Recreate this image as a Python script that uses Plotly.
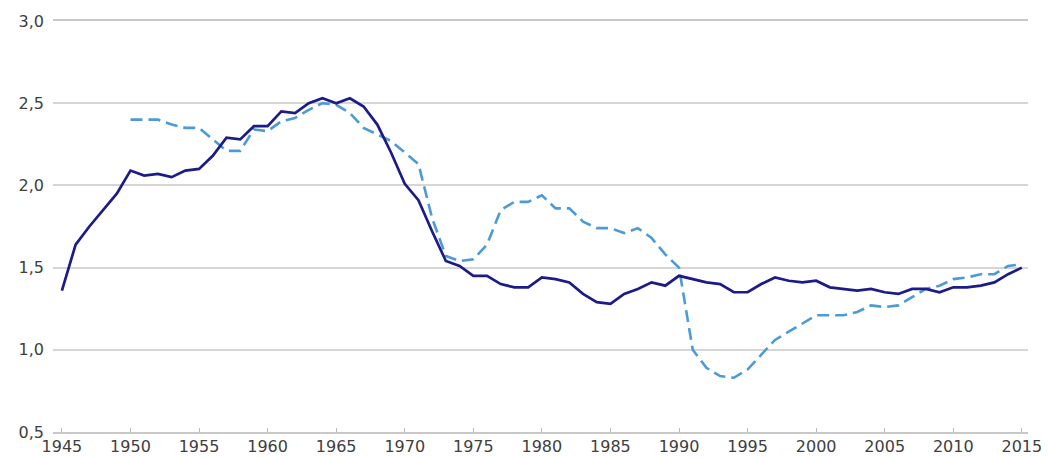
import plotly.graph_objects as go

years_solid = list(range(1945, 2016))
solid_values = [1.36, 1.64, 1.75, 1.85, 1.95, 2.09, 2.06, 2.07, 2.05, 2.09,
                2.10, 2.18, 2.29, 2.28, 2.36, 2.36, 2.45, 2.44, 2.50, 2.53,
                2.50, 2.53, 2.48, 2.37, 2.20, 2.01, 1.91, 1.72, 1.54, 1.51,
                1.45, 1.45, 1.40, 1.38, 1.38, 1.44, 1.43, 1.41, 1.34, 1.29,
                1.28, 1.34, 1.37, 1.41, 1.39, 1.45, 1.43, 1.41, 1.40, 1.35,
                1.35, 1.40, 1.44, 1.42, 1.41, 1.42, 1.38, 1.37, 1.36, 1.37,
                1.35, 1.34, 1.37, 1.37, 1.35, 1.38, 1.38, 1.39, 1.41, 1.46,
                1.50]

years_dashed = list(range(1950, 2016))
dashed_values = [2.40, 2.40, 2.40, 2.37, 2.35, 2.35, 2.28, 2.21, 2.21, 2.34,
                 2.33, 2.39, 2.41, 2.46, 2.50, 2.49, 2.44, 2.35, 2.31, 2.27,
                 2.20, 2.13, 1.80, 1.57, 1.54, 1.55, 1.64, 1.85, 1.90, 1.90,
                 1.94, 1.86, 1.86, 1.78, 1.74, 1.74, 1.71, 1.74, 1.68, 1.58,
                 1.50, 1.00, 0.89, 0.84, 0.83, 0.88, 0.97, 1.06, 1.11, 1.16,
                 1.21, 1.21, 1.21, 1.23, 1.27, 1.26, 1.27, 1.32, 1.37, 1.39,
                 1.43, 1.44, 1.46, 1.46, 1.51, 1.52]

x_ticks = list(range(1945, 2016, 5))
y_ticks = [0.5, 1.0, 1.5, 2.0, 2.5, 3.0]

fig = go.Figure()
fig.add_trace(go.Scatter(x=years_dashed, y=dashed_values, mode="lines",
                         line=dict(color="#4c9ad6", width=2.6, dash="12px,6px"),
                         showlegend=False, hoverinfo="skip"))
fig.add_trace(go.Scatter(x=years_solid, y=solid_values, mode="lines",
                         line=dict(color="#1c1b87", width=2.7),
                         showlegend=False, hoverinfo="skip"))

font = dict(family="DejaVu Sans, Verdana, sans-serif", size=16, color="#404040")
# page body has an 8px default margin, so the figure is 8px smaller
fig.update_layout(
    width=1041, height=449,
    margin=dict(l=45, r=21, t=13, b=25),
    plot_bgcolor="white", paper_bgcolor="white",
    separators=",.",
    font=font,
)
fig.update_xaxes(range=[1944.35, 2015.45], tickvals=x_ticks, showgrid=False,
                 zeroline=False, showline=True, linecolor="#c8c8c8", linewidth=1.5,
                 mirror=True, ticks="inside", ticklen=4, automargin=False,
                 tickcolor="#bbbbbb", tickfont=font, ticklabelstandoff=-1)
fig.update_yaxes(range=[0.5, 3.0], tickvals=y_ticks, tickformat=".1f",
                 showgrid=True, gridcolor="#d6d6d6", gridwidth=1.5,
                 zeroline=False, showline=False, ticks="", tickfont=font,
                 ticklabelstandoff=8, automargin=False)
fig.write_html("out.html")
